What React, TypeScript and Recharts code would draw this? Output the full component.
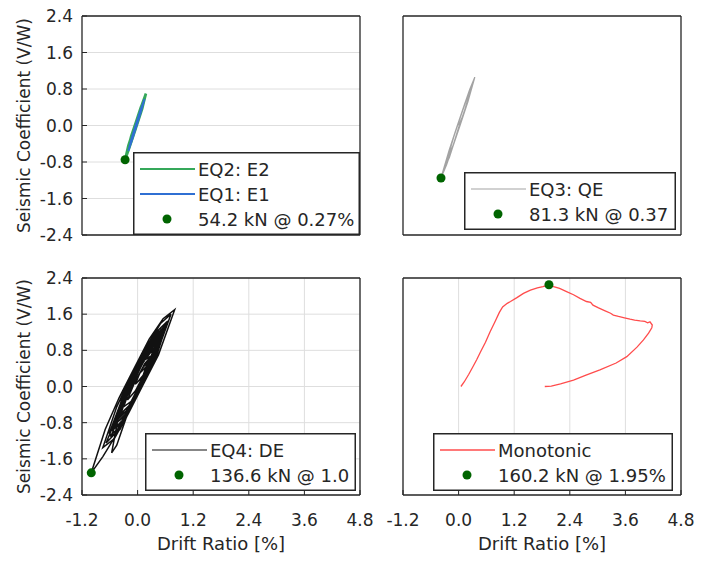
import React from "react";
import { ComposedChart, Line, Scatter, XAxis, YAxis, CartesianGrid } from "recharts";

const xTicks = [-1.2, 0, 1.2, 2.4, 3.6, 4.8];
const yTicks = [-2.4, -1.6, -0.8, 0, 0.8, 1.6, 2.4];
const xLabel = "Drift Ratio [%]";
const yLabel = "Seismic Coefficient (V/W)";

type Pt = [number, number];

// EQ2: E2 (green) hysteresis
const eq2: Pt[] = [
  [0.0, 0.1], [0.06, 0.26], [0.12, 0.46], [0.18, 0.7], [0.1, 0.48], [0.0, 0.18],
  [-0.1, -0.13], [-0.2, -0.44], [-0.27, -0.75], [-0.19, -0.52], [-0.09, -0.22],
  [0.02, 0.12], [0.1, 0.37], [0.16, 0.62], [0.07, 0.4], [-0.04, 0.06],
  [-0.14, -0.24], [-0.24, -0.64], [-0.15, -0.4], [-0.04, -0.07], [0.08, 0.32], [0.15, 0.58],
];

// EQ1: E1 (blue)
const eq1: Pt[] = [
  [0.0, 0.08], [0.08, 0.33], [0.15, 0.58], [0.07, 0.36], [-0.05, -0.02], [-0.13, -0.28],
  [-0.2, -0.56], [-0.12, -0.32], [-0.02, 0.0], [0.07, 0.29], [0.13, 0.52], [0.05, 0.3],
  [-0.06, -0.05], [-0.18, -0.5], [-0.09, -0.22], [0.02, 0.14],
];

// EQ3: QE (grey)
const eq3: Pt[] = [
  [0.0, 0.0], [0.1, 0.23], [0.2, 0.52], [0.27, 0.81], [0.17, 0.57], [0.05, 0.22],
  [-0.08, -0.17], [-0.2, -0.55], [-0.28, -0.85], [-0.18, -0.62], [-0.05, -0.23],
  [0.08, 0.16], [0.2, 0.52], [0.35, 1.06], [0.24, 0.79], [0.1, 0.38], [-0.05, -0.07],
  [-0.2, -0.53], [-0.38, -1.15], [-0.26, -0.86], [-0.12, -0.45], [0.03, 0.0],
  [0.16, 0.4], [0.3, 0.9], [0.18, 0.61], [0.04, 0.19], [-0.1, -0.23], [-0.24, -0.72],
  [-0.12, -0.44], [0.0, -0.05], [0.12, 0.3], [0.25, 0.74], [0.14, 0.5], [0.0, 0.08],
  [-0.15, -0.38], [-0.31, -0.95], [-0.2, -0.7], [-0.06, -0.26], [0.08, 0.17],
];

// EQ4: DE (black)
const eq4: Pt[] = [
  [0.0, 0.1], [0.12, 0.25], [0.25, 0.65], [0.1, 0.55], [-0.1, 0.15], [-0.3, -0.3],
  [-0.4, -0.65], [-0.25, -0.55], [-0.05, -0.15], [0.2, 0.3], [0.45, 1.05], [0.25, 0.85],
  [0.0, 0.4], [-0.25, -0.05], [-0.55, -0.95], [-0.35, -0.85], [-0.1, -0.3], [0.15, 0.15],
  [0.4, 0.65], [0.65, 1.45], [0.4, 1.2], [0.1, 0.7], [-0.2, 0.1], [-0.45, -0.45],
  [-0.75, -1.35], [-0.5, -1.15], [-0.2, -0.6], [0.1, 0.0], [0.45, 0.7], [0.8, 1.7],
  [0.55, 1.5], [0.25, 1.05], [-0.05, 0.45], [-0.3, -0.05], [-0.56, -1.47], [-0.45, -1.3],
  [-0.25, -0.7], [0.05, -0.05], [0.35, 0.55], [0.72, 1.6], [0.5, 1.4], [0.2, 0.9],
  [-0.1, 0.35], [-0.4, -0.25], [-0.7, -0.95], [-1.0, -1.91], [-0.75, -1.55], [-0.45, -1.05],
  [-0.15, -0.45], [0.15, 0.1], [0.4, 0.7], [0.6, 1.35], [0.35, 1.1], [0.05, 0.55],
  [-0.25, -0.05], [-0.6, -1.0], [-0.35, -0.8], [-0.05, -0.2], [0.25, 0.4], [0.55, 1.25],
  [0.3, 0.95], [0.0, 0.4], [-0.3, -0.15], [-0.5, -0.85], [-0.25, -0.6], [0.05, -0.05],
  [0.3, 0.45], [0.5, 1.15], [0.25, 0.85], [-0.05, 0.3], [-0.35, -0.3], [-0.45, -0.75],
  [-0.2, -0.5], [0.1, 0.05], [0.35, 0.85], [0.1, 0.5], [-0.15, 0.0], [-0.3, -0.45],
  [-0.1, -0.3], [0.1, 0.1], [0.2, 0.45], [0.05, 0.3], [-0.05, 0.05],
  [0.2, 0.3], [0.42, 0.92], [0.6, 1.38], [0.4, 1.08], [0.15, 0.62], [-0.1, 0.12],
  [-0.35, -0.4], [-0.62, -1.1], [-0.4, -0.92], [-0.15, -0.4], [0.1, 0.1], [0.35, 0.6],
  [0.58, 1.3], [0.38, 1.05], [0.12, 0.55], [-0.15, 0.02], [-0.4, -0.55], [-0.68, -1.25],
  [-0.45, -1.0], [-0.2, -0.5], [0.05, 0.0], [0.3, 0.5], [0.52, 1.2], [0.3, 0.9],
  [0.05, 0.42], [-0.2, -0.1], [-0.48, -0.82], [-0.3, -0.68], [-0.05, -0.18], [0.2, 0.3],
  [0.45, 1.05], [0.25, 0.8], [0.02, 0.35], [-0.22, -0.15], [-0.42, -0.7], [-0.2, -0.5],
  [0.05, -0.02], [0.28, 0.5], [0.48, 1.12], [0.3, 0.88], [0.08, 0.45], [-0.15, 0.0],
  [-0.38, -0.6], [-0.58, -1.12], [-0.38, -0.95], [-0.12, -0.38], [0.12, 0.12], [0.38, 0.68],
  [0.62, 1.42], [0.45, 1.25], [0.2, 0.78], [-0.08, 0.22], [-0.32, -0.3], [-0.52, -0.95],
  [-0.3, -0.72], [-0.08, -0.25], [0.15, 0.22], [0.4, 0.95], [0.22, 0.72], [0.0, 0.3],
  [-0.2, -0.12], [-0.36, -0.6], [-0.16, -0.4], [0.06, 0.05], [0.26, 0.6], [0.1, 0.4],
  [-0.08, 0.05], [-0.22, -0.3], [-0.05, -0.1], [0.08, 0.15], [0.3, 0.62], [0.52, 1.28],
  [0.32, 1.0], [0.1, 0.5], [-0.12, 0.02], [-0.35, -0.5], [-0.55, -1.05], [-0.34, -0.85],
  [-0.12, -0.35], [0.1, 0.15], [0.32, 0.7], [0.15, 0.5], [-0.02, 0.15],
];

// Monotonic (red)
const mono: Pt[] = [
  [0.05, 0.0], [0.12, 0.1], [0.22, 0.27], [0.3, 0.42], [0.39, 0.59], [0.48, 0.78],
  [0.58, 0.98], [0.68, 1.21], [0.78, 1.42], [0.88, 1.64], [0.95, 1.76], [1.05, 1.84],
  [1.12, 1.88], [1.25, 1.96], [1.4, 2.06], [1.55, 2.13], [1.7, 2.18], [1.82, 2.21],
  [1.95, 2.25], [2.05, 2.21], [2.18, 2.17], [2.33, 2.1], [2.48, 2.03], [2.62, 1.95],
  [2.76, 1.88], [2.85, 1.86], [2.9, 1.8], [3.02, 1.74], [3.15, 1.68], [3.28, 1.62],
  [3.34, 1.58], [3.45, 1.55], [3.58, 1.52], [3.7, 1.49], [3.8, 1.47], [3.92, 1.45],
  [4.02, 1.44], [4.08, 1.41], [4.13, 1.43], [4.18, 1.36], [4.17, 1.3], [4.1, 1.18],
  [3.99, 1.03], [3.85, 0.87], [3.63, 0.66], [3.4, 0.52], [3.05, 0.37], [2.75, 0.25],
  [2.48, 0.14], [2.2, 0.06], [2.0, 0.01], [1.86, 0.0],
];

const peakTL: Pt = [-0.27, -0.75];
const peakTR: Pt = [-0.38, -1.15];
const peakBL: Pt = [-1.0, -1.91];
const peakBR: Pt = [1.95, 2.25];

const FONT = "DejaVu Sans, Verdana, sans-serif";
const INK = "#262626";
const DOT = "#006400";

const rows = (pts: Pt[]) => pts.map(([x, y]) => ({ x, y }));

type Series = { data: Pt[]; color: string; width: number; name: string; legendWidth: number };
type LegendBox = { left: number; top: number; width: number; height: number };

interface PanelProps {
  left: number;
  top: number;
  marginTop: number;
  plotH: number;
  xAxisH: number;
  showX: boolean;
  showY: boolean;
  series: Series[];
  peak: Pt;
  peakLabel: string;
  legend: LegendBox;
}

function Legend({ box, series, peakLabel }: { box: LegendBox; series: Series[]; peakLabel: string }) {
  const items = [...series.map((s) => ({ kind: "line", ...s })), { kind: "dot", name: peakLabel, color: DOT, legendWidth: 0 }];
  return (
    <svg
      width={box.width}
      height={box.height}
      style={{ position: "absolute", left: box.left, top: box.top }}
    >
      <rect x={0.75} y={0.75} width={box.width - 1.5} height={box.height - 1.5} fill="#fff" stroke={INK} strokeWidth={1.5} />
      {items.map((it, i) => {
        const cy = 17 + i * 25;
        return (
          <g key={it.name}>
            {it.kind === "line" ? (
              <line x1={7} x2={62} y1={cy} y2={cy} stroke={it.color} strokeWidth={it.legendWidth} />
            ) : (
              <circle cx={34} cy={cy} r={4.5} fill={DOT} />
            )}
            <text x={65} y={cy} dominantBaseline="central" fontFamily={FONT} fontSize={18} fill={INK}>
              {it.name}
            </text>
          </g>
        );
      })}
    </svg>
  );
}

function Panel(p: PanelProps) {
  const width = 385;
  const height = p.marginTop + 1 + p.plotH + p.xAxisH;
  const tickStyle = { fill: INK, fontSize: 17, fontFamily: FONT };
  const axisLine = { stroke: INK, strokeWidth: 1.3 };
  return (
    <div style={{ position: "absolute", left: p.left, top: p.top, width, height }}>
      <ComposedChart width={width} height={height} margin={{ top: p.marginTop, right: 24, bottom: 0, left: 0 }}>
        <CartesianGrid stroke="#dedede" horizontalValues={yTicks} verticalValues={xTicks} />
        <XAxis
          dataKey="x"
          type="number"
          domain={[-1.2, 4.8]}
          ticks={xTicks}
          allowDataOverflow
          height={p.xAxisH}
          tickSize={-5}
          tickMargin={24}
          tickLine={{ stroke: INK }}
          axisLine={axisLine}
          tick={p.showX ? tickStyle : false}
          tickFormatter={(v: number) => v.toFixed(1)}
          label={
            p.showX
              ? (lp: any) => {
                  const vb = lp.viewBox || {};
                  return (
                    <text x={vb.x + vb.width / 2} y={vb.y + 55} textAnchor="middle" fontFamily={FONT} fontSize={18} fill={INK}>
                      {xLabel}
                    </text>
                  );
                }
              : undefined
          }
        />
        <XAxis
          xAxisId="top"
          orientation="top"
          type="number"
          domain={[-1.2, 4.8]}
          ticks={xTicks}
          allowDataOverflow
          height={1}
          tickSize={-5}
          tickLine={{ stroke: INK }}
          axisLine={axisLine}
          tick={false}
        />
        <YAxis
          dataKey="y"
          type="number"
          domain={[-2.4, 2.4]}
          ticks={yTicks}
          allowDataOverflow
          width={82}
          tickSize={-5}
          tickMargin={14}
          tickLine={{ stroke: INK }}
          axisLine={axisLine}
          tick={p.showY ? tickStyle : false}
          tickFormatter={(v: number) => v.toFixed(1)}
          label={
            p.showY
              ? (lp: any) => {
                  const vb = lp.viewBox || {};
                  const cx = 24;
                  const cy = vb.y + vb.height / 2;
                  return (
                    <text
                      x={cx}
                      y={cy}
                      transform={`rotate(-90, ${cx}, ${cy})`}
                      textAnchor="middle"
                      dominantBaseline="central"
                      fontFamily={FONT}
                      fontSize={17}
                      fill={INK}
                    >
                      {yLabel}
                    </text>
                  );
                }
              : undefined
          }
        />
        <YAxis
          yAxisId="right"
          orientation="right"
          type="number"
          domain={[-2.4, 2.4]}
          ticks={yTicks}
          allowDataOverflow
          width={1}
          tickSize={-5}
          tickLine={{ stroke: INK }}
          axisLine={axisLine}
          tick={false}
        />
        {p.series.map((s) => (
          <Line
            key={s.name}
            data={rows(s.data)}
            dataKey="y"
            type="linear"
            stroke={s.color}
            strokeWidth={s.width}
            dot={false}
            activeDot={false}
            isAnimationActive={false}
          />
        ))}
        <Scatter data={rows([p.peak])} dataKey="y" fill={DOT} isAnimationActive={false} />
      </ComposedChart>
      <Legend
        box={{ ...p.legend, left: p.legend.left - p.left, top: p.legend.top - p.top }}
        series={p.series}
        peakLabel={p.peakLabel}
      />
    </div>
  );
}

export default function App() {
  return (
    <div
      style={{
        position: "absolute",
        left: 0,
        top: 0,
        width: 710,
        height: 561,
        background: "#fff",
        overflow: "hidden",
      }}
    >
      <Panel
        left={0}
        top={0}
        marginTop={15}
        plotH={219}
        xAxisH={20}
        showX={false}
        showY
        series={[
          { data: eq2, color: "#35a85a", width: 2.6, name: "EQ2: E2", legendWidth: 2 },
          { data: eq1, color: "#2f6fd3", width: 1.8, name: "EQ1: E1", legendWidth: 2 },
        ]}
        peak={peakTL}
        peakLabel="54.2 kN @ 0.27%"
        legend={{ left: 133, top: 152, width: 227, height: 83 }}
      />
      <Panel
        left={321}
        top={0}
        marginTop={15}
        plotH={219}
        xAxisH={20}
        showX={false}
        showY={false}
        series={[{ data: eq3, color: "#a3a3a3", width: 1.3, name: "EQ3: QE", legendWidth: 1.2 }]}
        peak={peakTR}
        peakLabel="81.3 kN @ 0.37"
        legend={{ left: 464, top: 172, width: 212, height: 58 }}
      />
      <Panel
        left={0}
        top={260}
        marginTop={17}
        plotH={217}
        xAxisH={60}
        showX
        showY
        series={[{ data: eq4, color: "#111111", width: 1.5, name: "EQ4: DE", legendWidth: 1.2 }]}
        peak={peakBL}
        peakLabel="136.6 kN @ 1.0"
        legend={{ left: 145, top: 433, width: 211, height: 58 }}
      />
      <Panel
        left={321}
        top={260}
        marginTop={17}
        plotH={217}
        xAxisH={60}
        showX
        showY={false}
        series={[{ data: mono, color: "#ff4c4c", width: 1.3, name: "Monotonic", legendWidth: 1.5 }]}
        peak={peakBR}
        peakLabel="160.2 kN @ 1.95%"
        legend={{ left: 433, top: 433, width: 240, height: 58 }}
      />
    </div>
  );
}
